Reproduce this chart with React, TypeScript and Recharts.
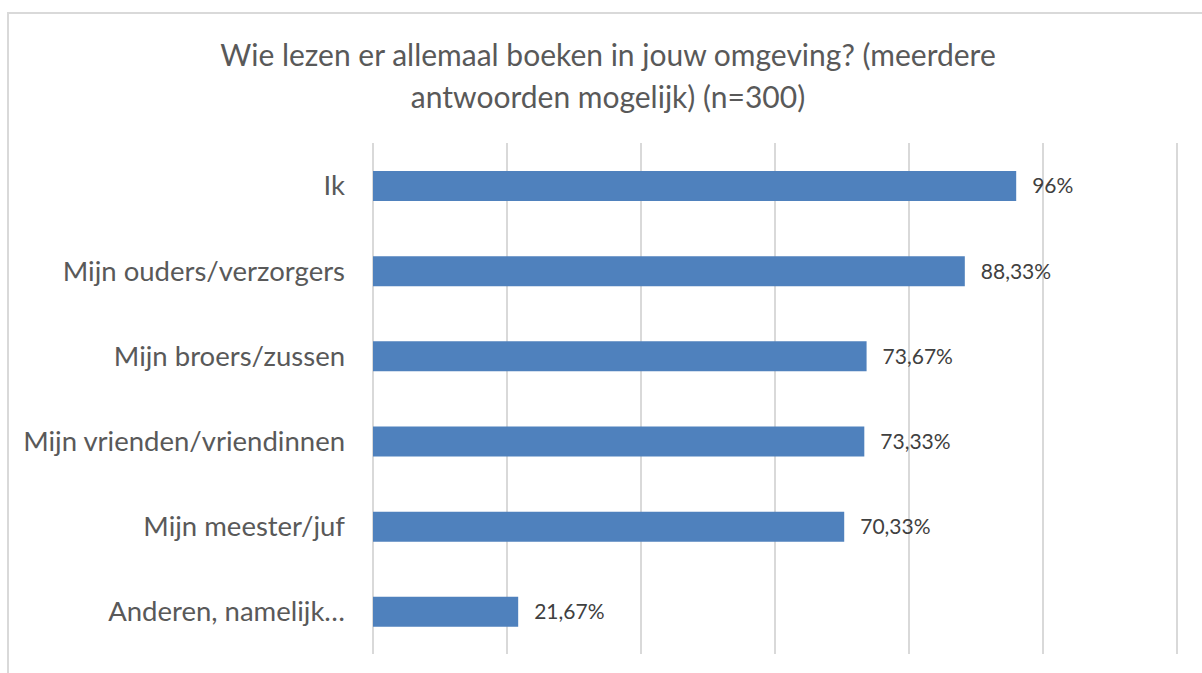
import React from "react";
import { BarChart, Bar, XAxis, YAxis, CartesianGrid, LabelList } from "recharts";

// categorieën en percentages (n=300)
const categories = [
  "Ik",
  "Mijn ouders/verzorgers",
  "Mijn broers/zussen",
  "Mijn vrienden/vriendinnen",
  "Mijn meester/juf",
  "Anderen, namelijk…",
];
const percentages = [96, 88.33, 73.67, 73.33, 70.33, 21.67];
const xTicks = [0, 20, 40, 60, 80, 100, 120];

const data = categories.map((name, i) => ({ name, value: percentages[i] }));

const FONT = "Lato, 'Open Sans', sans-serif";

const fmt = (v: any) => {
  const n = Number(v);
  return Number.isInteger(n) ? `${n}%` : `${n.toFixed(2).replace(".", ",")}%`;
};

export default function App() {
  return (
    <div style={{ position: "absolute", left: 0, top: 0, width: 1202, height: 673, background: "#fff", overflow: "hidden", fontFamily: FONT }}>
      <div style={{ position: "absolute", left: 7, top: 12, width: 1210, height: 680, border: "2px solid #d9d9d9", boxSizing: "border-box" }} />
      <div style={{ position: "absolute", left: 0, top: 33, width: 1216, textAlign: "center", fontSize: 30, lineHeight: "42px", color: "#595959" }}>
        Wie lezen er allemaal boeken in jouw omgeving? (meerdere
        <br />
        antwoorden mogelijk) (n=300)
      </div>
      <BarChart
        width={1202}
        height={673}
        data={data}
        layout="vertical"
        margin={{ top: 143, right: 25, bottom: 19, left: 0 }}
        style={{ position: "absolute", left: 0, top: 0 }}
      >
        <CartesianGrid horizontal={false} stroke="#d9d9d9" strokeWidth={2} />
        <XAxis
          type="number"
          domain={[0, 120]}
          ticks={xTicks}
          interval={0}
          height={0}
          tick={() => <g />}
          axisLine={false}
          tickLine={false}
        />
        <YAxis
          type="category"
          dataKey="name"
          width={373}
          axisLine={false}
          tickLine={false}
          tickSize={0}
          tickMargin={28}
          tick={{ fill: "#595959", fontSize: 27.5, fontFamily: FONT }}
        />
        <Bar dataKey="value" fill="#4f81bd" barSize={30} isAnimationActive={false}>
          <LabelList
            dataKey="value"
            position="right"
            offset={16}
            formatter={fmt}
            style={{ fill: "#404040", fontSize: 21, fontFamily: FONT }}
          />
        </Bar>
      </BarChart>
    </div>
  );
}
